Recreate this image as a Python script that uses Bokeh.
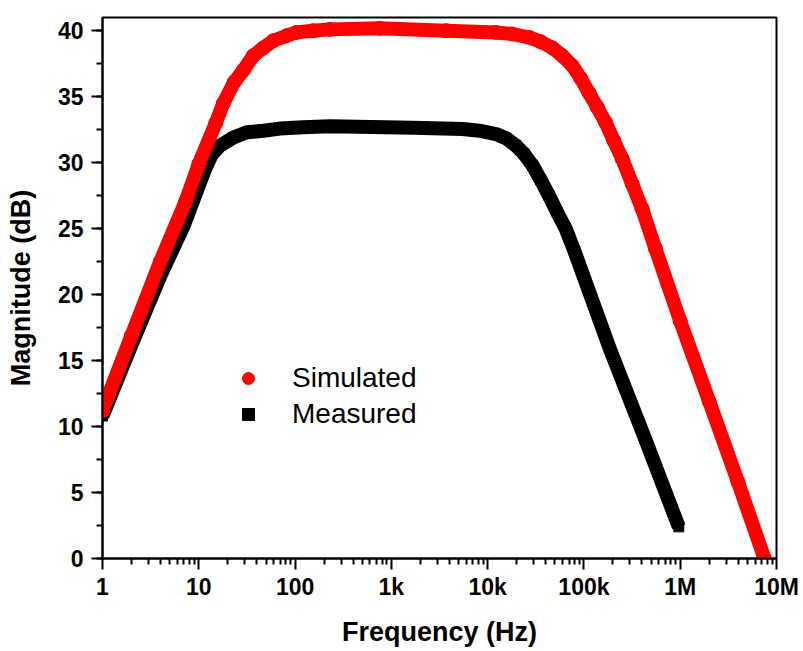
from bokeh.plotting import figure
from bokeh.models import Range1d, FixedTicker, SingleIntervalTicker, Legend, LegendItem
from bokeh.embed import file_html
from bokeh.resources import INLINE

# Simulated response (Hz, dB)
sim_freq = [1, 2.0, 3.98, 7.23, 10, 15.0, 18.0, 23.3, 29.0, 36.8, 46.8, 59.3,
            81.7, 103.5, 154, 229, 755, 3700, 12200, 18100, 26900, 35500, 47000,
            59700, 75700, 92500, 112700, 137400, 167500, 204200, 249500, 316200,
            401800, 552100, 1.0e6, 2.0e6, 3.98e6, 7.5e6]
sim_db = [11.2, 16.9, 22.5, 27.0, 29.9, 33.0, 34.5, 36.1, 37.0, 38.1, 38.7, 39.24,
          39.62, 39.87, 40.0, 40.1, 40.18, 40.0, 39.87, 39.75, 39.5, 39.17, 38.7,
          38.1, 37.35, 36.4, 35.3, 34.2, 33.05, 31.67, 30.3, 28.4, 26.5, 23.5,
          18.0, 11.9, 5.8, 0.0]

# Measured response (Hz, dB)
meas_freq = [1, 2.0, 3.98, 6.95, 11.6, 13.6, 16.7, 22.9, 31.5, 46.8, 69.7, 121,
             229, 1670, 5500, 8180, 12200, 15500, 19600, 23900, 29200, 35500,
             43400, 53000, 64600, 78700, 188800, 451900, 966000]
meas_db = [10.8, 16.2, 21.4, 25.2, 29.5, 30.6, 31.3, 31.9, 32.3, 32.42, 32.58,
           32.68, 32.75, 32.65, 32.55, 32.42, 32.17, 31.85, 31.3, 30.66, 29.8,
           28.7, 27.5, 26.2, 25.0, 23.4, 15.76, 8.7, 2.4]

x_ticks = [1, 10, 100, 1000, 10000, 100000, 1000000, 10000000]
x_tick_labels = ["1", "10", "100", "1k", "10k", "100k", "1M", "10M"]
x_minor = [m * t for t in x_ticks[:-1] for m in range(2, 10)]

FONT = "Liberation Sans"

p = figure(width=803, height=651, x_axis_type="log",
           x_range=Range1d(1, 1e7), y_range=Range1d(0, 41),
           output_backend="svg", toolbar_location=None,
           min_border_left=102, min_border_right=27, min_border_top=17,
           min_border_bottom=93)
p.xgrid.visible = False
p.ygrid.visible = False
p.outline_line_color = "black"
p.outline_line_width = 2
p.outline_line_alpha = 1
p.background_fill_color = "white"
p.border_fill_color = "white"

r_meas_line = p.line(meas_freq, meas_db, line_color="black", line_width=14,
                     line_join="round")
r_meas_pts = p.scatter(meas_freq, meas_db, marker="square", size=10,
                       color="black")
r_sim_line = p.line(sim_freq, sim_db, line_color="#ff0000", line_width=14,
                    line_join="round")
r_sim_pts = p.scatter(sim_freq, sim_db, marker="circle", size=14,
                      color="#ff0000")

xa = p.xaxis[0]
ya = p.yaxis[0]
xa.ticker = FixedTicker(ticks=x_ticks, minor_ticks=x_minor)
xa.major_label_overrides = {t: lab for t, lab in zip(x_ticks, x_tick_labels)}
ya.ticker = SingleIntervalTicker(interval=5, num_minor_ticks=2)

for ax in (xa, ya):
    ax.axis_line_width = 2
    ax.axis_line_color = "black"
    ax.major_tick_line_width = 2
    ax.minor_tick_line_width = 2
    ax.major_tick_line_color = "black"
    ax.minor_tick_line_color = "black"
    ax.major_tick_out = 11
    ax.major_tick_in = 0
    ax.minor_tick_out = 6
    ax.minor_tick_in = 0
    ax.major_label_text_font = FONT
    ax.major_label_text_font_style = "bold"
    ax.major_label_text_font_size = "23px"
    ax.major_label_text_color = "black"
    ax.axis_label_text_font = FONT
    ax.axis_label_text_font_style = "bold"
    ax.axis_label_text_font_size = "27px"
    ax.axis_label_text_color = "black"

xa.axis_label = "Frequency (Hz)"
ya.axis_label = "Magnitude (dB)"
xa.major_label_standoff = 4
xa.axis_label_standoff = 14
ya.major_label_standoff = 8
ya.axis_label_standoff = 19

legend = Legend(items=[LegendItem(label="Simulated", renderers=[r_sim_pts]),
                       LegendItem(label="Measured", renderers=[r_meas_pts])],
                location=(131, 128))
legend.background_fill_alpha = 0
legend.border_line_alpha = 0
legend.glyph_width = 30
legend.glyph_height = 30
legend.label_height = 30
legend.spacing = 4
legend.padding = 0
legend.margin = 0
legend.label_standoff = 29
legend.label_text_font = FONT
legend.label_text_font_size = "28px"
legend.label_text_color = "black"
p.add_layout(legend)

open("out.html", "w").write(file_html(p, INLINE))
